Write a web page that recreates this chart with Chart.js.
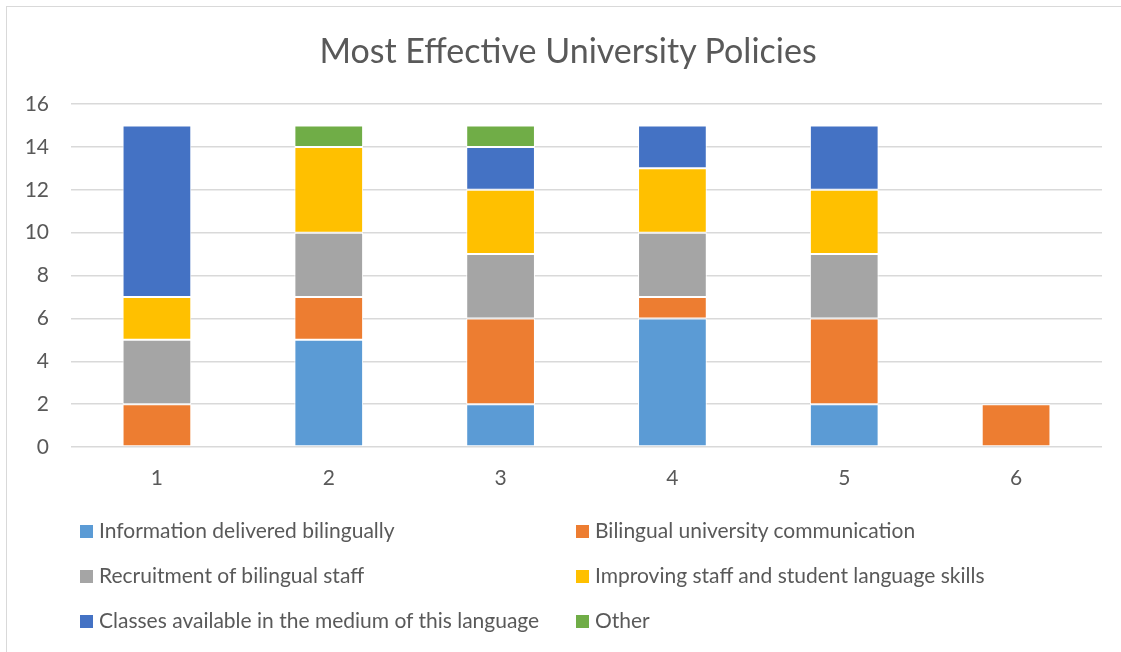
<!DOCTYPE html>
<html>
<head>
<meta charset="utf-8">
<script src="https://cdn.jsdelivr.net/npm/chart.js@4"></script>
<style>
  html, body { margin: 0; padding: 0; background: #fff; }
  body { width: 1121px; height: 652px; position: relative; overflow: hidden; font-family: Lato, "Open Sans", sans-serif; }
  #frame { position: absolute; left: 6px; top: 6px; width: 1140px; height: 680px; border: 1px solid #d9d9d9; box-sizing: border-box; }
  #wrap { position: absolute; left: 0; top: 0; width: 1121px; height: 652px; }
  #title { position: absolute; left: 0; width: 1136px; top: 29px; text-align: center; font-size: 34px; color: #595959; line-height: 42px; }
  #legend { position: absolute; left: 0; top: 0; width: 1121px; height: 652px; pointer-events: none; }
  .item { position: absolute; font-size: 21px; color: #595959; line-height: 24px; white-space: nowrap; }
  .item span.box { display: inline-block; width: 13px; height: 13px; margin-right: 6px; vertical-align: 0px; }
</style>
</head>
<body>
<div id="frame"></div>
<div id="wrap"><canvas id="chart" width="1121" height="652"></canvas></div>
<div id="title">Most Effective University Policies</div>
<div id="legend"></div>
<script>
// categories along the x axis
const categories = ['1', '2', '3', '4', '5', '6'];

// policy responses per category, stacked bottom to top
const informationBilingual = [0, 5, 2, 6, 2, 0];
const universityCommunication = [2, 2, 4, 1, 4, 2];
const bilingualStaff = [3, 3, 3, 3, 3, 0];
const languageSkills = [2, 4, 3, 3, 3, 0];
const classesInLanguage = [8, 0, 2, 2, 3, 0];
const otherPolicy = [0, 1, 1, 0, 0, 0];

const seriesNames = [
  'Information delivered bilingually',
  'Bilingual university communication',
  'Recruitment of bilingual staff',
  'Improving staff and student language skills',
  'Classes available in the medium of this language',
  'Other'
];
const seriesValues = [informationBilingual, universityCommunication, bilingualStaff, languageSkills, classesInLanguage, otherPolicy];
const seriesColors = ['#5b9bd5', '#ed7d31', '#a5a5a5', '#ffc000', '#4472c4', '#70ad47'];

// y axis
const yMin = 0, yMax = 16, yStep = 2;

const datasets = seriesNames.map((name, i) => ({
  label: name,
  data: seriesValues[i],
  backgroundColor: seriesColors[i],
  borderColor: '#ffffff',
  borderWidth: ctx => (ctx.raw ? 1 : 0),
  borderSkipped: false,
  barPercentage: 0.4,
  categoryPercentage: 1
}));

new Chart(document.getElementById('chart'), {
  type: 'bar',
  data: { labels: categories, datasets },
  options: {
    responsive: false,
    animation: false,
    layout: { padding: { top: 104, right: 19, bottom: 0, left: 0 } },
    plugins: { legend: { display: false }, title: { display: false }, tooltip: { enabled: false } },
    scales: {
      x: {
        stacked: true,
        grid: { display: false, drawTicks: false },
        border: { display: false },
        ticks: { color: '#595959', font: { family: 'Lato', size: 21 }, padding: 19 },
        afterFit: s => { s.height = 205; }
      },
      y: {
        stacked: true,
        min: yMin, max: yMax,
        ticks: { stepSize: yStep, color: '#595959', font: { family: 'Lato', size: 21 }, padding: 22 },
        grid: { color: '#d9d9d9', lineWidth: 1.5, drawTicks: false },
        border: { display: false },
        afterFit: s => { s.width = 71; }
      }
    }
  }
});

// two-column legend under the plot
const legend = document.getElementById('legend');
const colX = [80, 576];
const rowY = [518, 563, 608];
seriesNames.forEach((name, i) => {
  const el = document.createElement('div');
  el.className = 'item';
  el.style.left = colX[i % 2] + 'px';
  el.style.top = rowY[Math.floor(i / 2)] + 'px';
  el.innerHTML = '<span class="box" style="background:' + seriesColors[i] + '"></span>';
  el.appendChild(document.createTextNode(name));
  legend.appendChild(el);
});
</script>
</body>
</html>
